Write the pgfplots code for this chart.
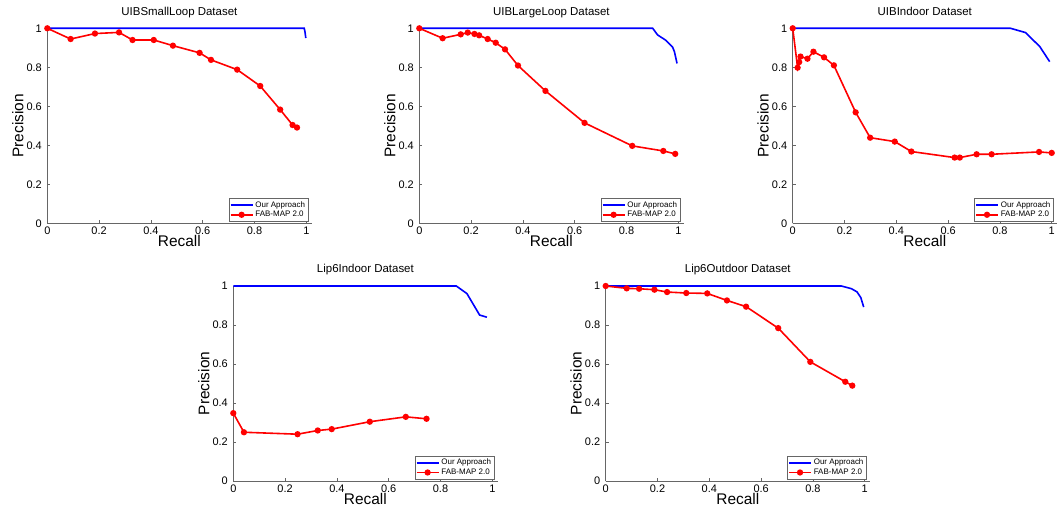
\documentclass[border=0pt]{standalone}
\usepackage{fontspec}
\setmainfont{Liberation Sans}
\usepackage{pgfplots}
\pgfplotsset{compat=1.18}
\pgfplotsset{
  every axis x label/.style={at={(axis description cs:0.5,0)}, anchor=base, yshift=-23.4bp},
  every axis y label/.style={at={([xshift=-24bp]axis description cs:0,0.5)}, anchor=base, rotate=90},
  every axis title/.style={at={(axis description cs:0.5,1)}, anchor=base, yshift=13bp, font=\fontsize{11.5}{13}\selectfont},
  prstyle/.style={
    scale only axis, width=264.2bp, height=195bp,
    xmin=0, xmax=1.02, ymin=0, ymax=1,
    enlargelimits=false, clip=false,
    axis lines*=left,
    axis line style={gray!80!black, line width=0.6bp},
    tick style={gray!80!black, line width=0.5bp},
    tick align=inside, major tick length=3bp,
    xtick={0,0.2,0.4,0.6,0.8,1}, ytick={0,0.2,0.4,0.6,0.8,1},
    /pgf/number format/assume math mode=true,
    tick label style={font=\fontsize{11}{12}\selectfont, black},
    xticklabel style={yshift=-0.5bp},
    yticklabel style={xshift=-2bp},
    xlabel={Recall}, ylabel={Precision},
    label style={font=\fontsize{15.5}{17}\selectfont},
    legend style={at={(axis description cs:0.987,0.01)}, anchor=south east,
      draw=gray!80!black, line width=0.5bp, font=\fontsize{8}{9}\selectfont,
      inner sep=0.8bp, row sep=-1.5bp, cells={anchor=west}},
    legend cell align=left,
    legend image code/.code={\draw[mark repeat=2,mark phase=2] plot coordinates {(0bp,0bp) (11bp,0bp) (22bp,0bp)};},
  },
  ours/.style={color=blue, line width=1.6bp, no markers},
  fab/.style={color=red, line width=1.6bp, mark=*, mark size=2.3bp, mark options={solid, fill=red}},
}
\begin{document}
\begin{tikzpicture}
\useasboundingbox (0,0) rectangle (1057bp,521bp);

% UIBSmallLoop
\begin{axis}[prstyle, at={(47.3bp,297.7bp)}, anchor=south west, title={UIBSmallLoop Dataset}]
\addplot[ours] coordinates {(0,1) (0.992,1) (0.995,0.98) (0.998,0.95)};
\addplot[fab] coordinates {(0,1) (0.090,0.945) (0.184,0.973) (0.277,0.979) (0.329,0.940) (0.411,0.940) (0.485,0.911) (0.588,0.874) (0.632,0.838) (0.733,0.788) (0.822,0.704) (0.899,0.583) (0.947,0.504) (0.964,0.491)};
\legend{Our Approach, FAB-MAP 2.0}
\end{axis}

% UIBLargeLoop
\begin{axis}[prstyle, at={(419.3bp,297.7bp)}, anchor=south west, title={UIBLargeLoop Dataset}]
\addplot[ours] coordinates {(0,1) (0.901,1) (0.920,0.966) (0.950,0.940) (0.978,0.903) (0.985,0.88) (0.995,0.82)};
\addplot[fab] coordinates {(0,1) (0.090,0.949) (0.160,0.969) (0.187,0.978) (0.213,0.971) (0.231,0.964) (0.264,0.945) (0.295,0.926) (0.331,0.892) (0.381,0.809) (0.487,0.679) (0.638,0.515) (0.822,0.397) (0.942,0.371) (0.988,0.356)};
\legend{Our Approach, FAB-MAP 2.0}
\end{axis}

% UIBIndoor
\begin{axis}[prstyle, at={(792.7bp,297.7bp)}, anchor=south west, title={UIBIndoor Dataset}]
\addplot[ours] coordinates {(0,1) (0.841,1) (0.899,0.978) (0.954,0.906) (0.992,0.829)};
\addplot[fab] coordinates {(0,1) (0.019,0.798) (0.025,0.827) (0.030,0.855) (0.057,0.844) (0.080,0.880) (0.121,0.851) (0.159,0.810) (0.243,0.569) (0.299,0.439) (0.394,0.419) (0.458,0.368) (0.625,0.337) (0.645,0.337) (0.710,0.354) (0.768,0.354) (0.951,0.366) (1.0,0.361)};
\legend{Our Approach, FAB-MAP 2.0}
\end{axis}

% Lip6Indoor
\begin{axis}[prstyle, at={(233.3bp,40bp)}, anchor=south west, title={Lip6Indoor Dataset}]
\addplot[ours] coordinates {(0,1) (0.861,1) (0.902,0.961) (0.951,0.851) (0.979,0.840)};
\addplot[fab] coordinates {(0,0.348) (0.041,0.250) (0.248,0.240) (0.326,0.259) (0.380,0.266) (0.527,0.304) (0.666,0.329) (0.746,0.319)};
\legend{Our Approach, FAB-MAP 2.0}
\end{axis}

% Lip6Outdoor
\begin{axis}[prstyle, at={(605.7bp,40bp)}, anchor=south west, title={Lip6Outdoor Dataset}]
\addplot[ours] coordinates {(0,1) (0.910,1) (0.949,0.986) (0.970,0.97) (0.985,0.94) (0.996,0.892)};
\addplot[fab] coordinates {(0,1) (0.081,0.988) (0.129,0.986) (0.188,0.981) (0.237,0.969) (0.311,0.964) (0.392,0.962) (0.468,0.926) (0.542,0.894) (0.666,0.784) (0.790,0.611) (0.925,0.509) (0.952,0.489)};
\legend{Our Approach, FAB-MAP 2.0}
\end{axis}
\end{tikzpicture}
\end{document}
